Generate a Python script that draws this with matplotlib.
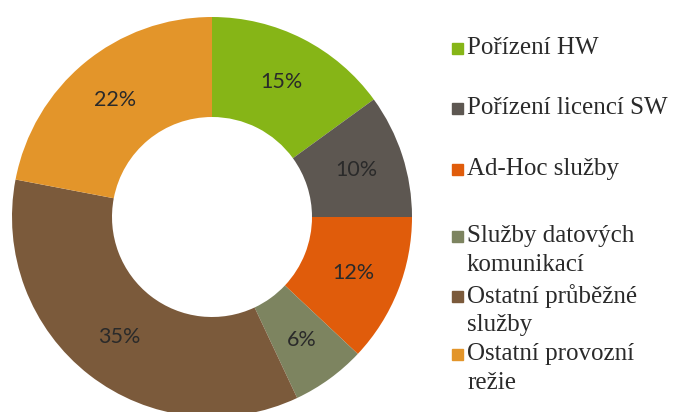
import matplotlib.pyplot as plt
from matplotlib.patches import Rectangle

# podíly nákladů v procentech
kategorie = ['Pořízení HW', 'Pořízení licencí SW', 'Ad-Hoc služby',
             'Služby datových\nkomunikací', 'Ostatní průběžné\nslužby',
             'Ostatní provozní\nrežie']
podily = [15, 10, 12, 6, 35, 22]
barvy = ['#86B517', '#5D5751', '#E05C0B', '#7D8460', '#7B5A3B', '#E3952A']

fig = plt.figure(figsize=(6.81, 4.12), dpi=100)
ax = fig.add_axes([0, 0, 1, 1])

# prstencový graf, začíná nahoře a jde po směru hodin
wedges, texts, autotexts = ax.pie(
    podily, colors=barvy, startangle=90, counterclock=False,
    center=(212, 195), radius=200,
    wedgeprops=dict(width=100, linewidth=0),
    autopct='%d%%', pctdistance=0.76,
    textprops=dict(family='Lato', fontsize=15.5, color='#2a2a2a'))

ax.set_xlim(0, 681)
ax.set_ylim(0, 412)
ax.set_aspect('equal')
ax.axis('off')

# legenda vpravo (y od horního okraje)
radky = [48, 108, 169, 236, 296, 354]
for y, text, barva in zip(radky, kategorie, barvy):
    yy = 412 - y
    ax.add_patch(Rectangle((452, yy - 6), 11, 11, color=barva))
    for i, line in enumerate(text.split('\n')):
        ax.text(467, yy - i * 29, line, ha='left', va='center',
                family='Liberation Serif', fontsize=18, color='#2a2a2a')

plt.savefig('out.png', dpi=100)
